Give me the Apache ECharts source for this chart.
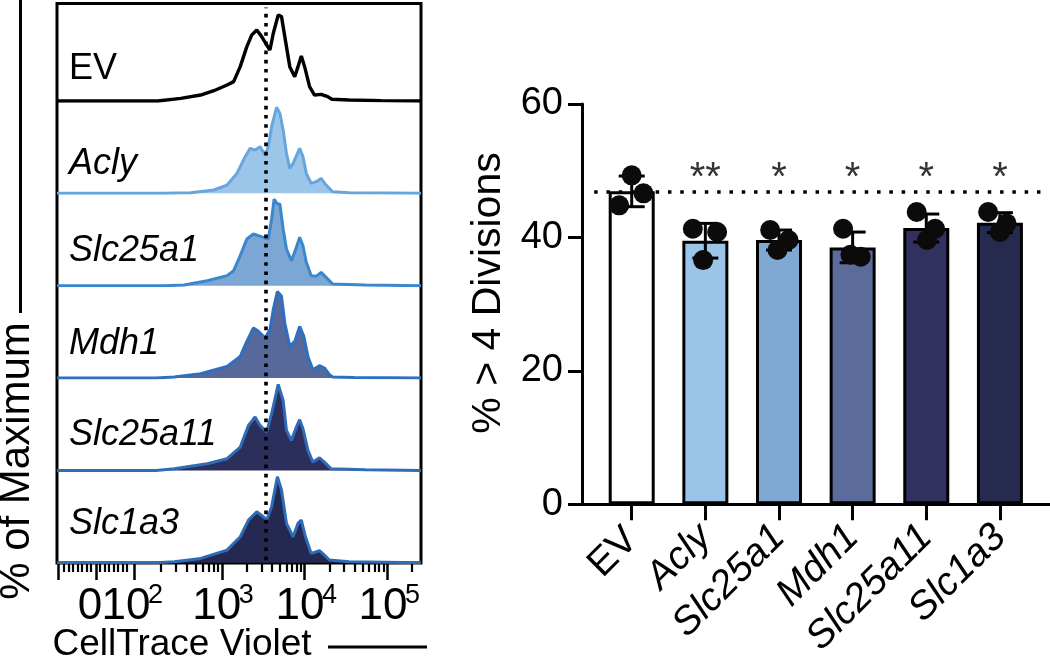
<!DOCTYPE html>
<html><head><meta charset="utf-8">
<script src="https://cdn.jsdelivr.net/npm/echarts@6/dist/echarts.min.js"></script>
<style>html,body{margin:0;padding:0;background:#fff}#c{width:1050px;height:660px}</style>
</head><body><div id="c"></div><script>
// ---------- Histogram data: [CellTrace Violet display position (decades), % of maximum] ----------
const histNames = ['EV', 'Acly', 'Slc25a1', 'Mdh1', 'Slc25a11', 'Slc1a3'];
const histItalic = [false, true, true, true, true, true];
const histEV = [[1.0,0],[2.22,0],[2.5,3.1],[2.74,6.9],[2.9,11.9],[3.06,18.5],[3.14,22.4],[3.22,39.7],[3.3,62.8],[3.36,76.3],[3.42,82],[3.48,74.4],[3.54,64.7],[3.58,59],[3.62,78],[3.68,99.4],[3.72,97.5],[3.76,74.4],[3.82,39.7],[3.88,28.1],[3.92,39.7],[3.96,52],[4.0,39.7],[4.06,16.6],[4.12,6.9],[4.2,7.7],[4.28,5],[4.33,2],[4.54,1.2],[4.93,0.4],[5.41,0]];
const histAcly = [[1.0,0],[2.3,0],[2.62,0.8],[2.9,3.9],[3.06,9.6],[3.18,23.1],[3.28,42.4],[3.34,52],[3.4,50],[3.46,54],[3.52,44.3],[3.56,54],[3.6,77],[3.66,99.4],[3.7,92.5],[3.74,73.2],[3.78,46.2],[3.82,28.9],[3.86,34.7],[3.94,52],[3.98,42.4],[4.02,23.1],[4.08,11.6],[4.14,13.5],[4.2,17.3],[4.26,9.6],[4.34,1.9],[4.54,0.8],[5.41,0]];
const histSlc25a1 = [[1.0,0],[2.3,0],[2.54,0.8],[2.82,5.8],[3.06,11.6],[3.14,17.3],[3.22,34.7],[3.3,54],[3.38,59.7],[3.5,55.9],[3.56,54],[3.6,77],[3.63,100],[3.67,94.4],[3.7,94.4],[3.74,65.5],[3.78,42.4],[3.84,28.9],[3.9,44.3],[3.94,55.9],[3.98,46.2],[4.02,27],[4.08,11.6],[4.14,10.8],[4.2,15.4],[4.26,9.6],[4.34,1.9],[4.74,0.8],[5.41,0]];
const histMdh1 = [[1.0,0],[2.2,0],[2.42,1.2],[2.74,5],[3.06,13.5],[3.22,25],[3.3,42.4],[3.38,57.8],[3.44,54],[3.52,46.2],[3.58,55.9],[3.62,79],[3.67,100],[3.72,94.4],[3.76,63.6],[3.82,36.6],[3.88,42.4],[3.94,59.7],[3.99,48.2],[4.04,25],[4.1,9.6],[4.18,14.3],[4.24,11.6],[4.3,3.9],[4.34,1.2],[4.6,0.5],[5.41,0]];
const histSlc25a11 = [[1.0,0],[2.2,0],[2.42,1.9],[2.82,7.7],[3.06,13.5],[3.22,27],[3.32,52],[3.4,61.7],[3.46,52],[3.54,44.3],[3.6,65.5],[3.68,99.4],[3.74,80.9],[3.78,46.2],[3.84,34.7],[3.9,50],[3.94,58.6],[3.98,48.2],[4.04,23.1],[4.1,9.6],[4.18,14.6],[4.24,9.6],[4.32,1.9],[4.74,0.8],[5.41,0]];
const histSlc1a3 = [[1.0,0],[2.2,0],[2.42,1.2],[2.74,5],[3.06,14.6],[3.22,30],[3.32,49.3],[3.42,59],[3.5,53.2],[3.54,49.3],[3.6,64.7],[3.67,99.4],[3.72,84],[3.78,45.5],[3.86,30],[3.92,45.5],[3.96,49.3],[4.01,30],[4.08,10.8],[4.18,13.9],[4.24,8.9],[4.3,3.1],[4.54,1.2],[5.41,0]];
const histData = [histEV, histAcly, histSlc25a1, histMdh1, histSlc25a11, histSlc1a3];
const divisionGate = 3.532; // dotted gate position

// CellTrace axis ticks (display positions on the biexponential axis)
const ctMin = 1.0, ctMax = 5.41;
const ctMajorTicks = [1.02, 1.47, 1.93, 3, 4, 5];
const ctMinorTicks = [1.08, 1.14, 1.19, 1.25, 1.3, 1.36, 1.41, 1.52, 1.58, 1.63, 1.69, 1.74, 1.8, 1.85,
  2.252, 2.44, 2.574, 2.678, 2.763, 2.834, 2.896, 2.951,
  3.301, 3.477, 3.602, 3.699, 3.778, 3.845, 3.903, 3.954,
  4.301, 4.477, 4.602, 4.699, 4.778, 4.845, 4.903, 4.954, 5.301];
const ctZeroLabelPos = 1.40;
const ctDecadeLabelPos = [1.836, 2.934, 3.944, 4.95];
const ctDecadeExp = ['2', '3', '4', '5'];

// ---------- Bar chart data ----------
const groups = ['EV', 'Acly', 'Slc25a1', 'Mdh1', 'Slc25a11', 'Slc1a3'];
const groupMeans = [46.9, 39.5, 39.6, 38.5, 41.4, 42.2];
const groupSD = [2.3, 2.6, 1.5, 2.3, 2.1, 1.5];
const groupPoints = [[49.3, 46.6, 44.8], [41.3, 40.8, 36.6], [41.1, 39.6, 38.1], [41.3, 37.4, 37.1], [43.8, 41.3, 39.6], [43.8, 42.1, 40.8]];
const pointJitter = [[0, 0.16, -0.17], [-0.17, 0.16, -0.03], [-0.12, 0.13, -0.02], [-0.13, -0.03, 0.11], [-0.13, 0.12, 0.01], [-0.16, 0.09, 0]];
const stars = ['', '**', '*', '*', '*', '*'];
const starLevel = 48.7;
const refLevel = 46.9;
const refFrom = -0.51, refTo = 5.66;

// ---------- styles ----------
const FONT = "'Liberation Sans', Arial, Helvetica, sans-serif";
const histFill = [null, '#9CC5EA', '#7CA7D4', '#57689A', '#2C2E5C', '#252850'];
const histLine = ['#000000', '#66A6DD', '#3A87CE', '#2E6FC0', '#2F6CB8', '#2F6CB8'];
const barColors = ['#FFFFFF', '#9AC4E8', '#7FA8D3', '#5B6B9B', '#31315E', '#262A4E'];

const grids = [], xAxes = [], yAxes = [], series = [];
const FL = 57, FW = 364, FT = 3.5, FH = 559.5;
const noLine = {show: false, onZero: false};
function addGrid(g, xa, ya) {
  const gi = grids.length;
  grids.push(g);
  xAxes.push(Object.assign({gridIndex: gi, type: 'value', position: 'bottom', splitLine: {show: false}}, xa));
  yAxes.push(Object.assign({gridIndex: gi, type: 'value', splitLine: {show: false}}, ya));
  return gi;
}
const frameGeom = {left: FL, top: FT, width: FW, height: FH};
const hidY = {min: 0, max: 100, show: false};
// frame with major ticks and the "0" label
addGrid(Object.assign({show: true, borderColor: '#000', borderWidth: 3, backgroundColor: 'transparent'}, frameGeom),
  {min: ctMin, max: ctMax, axisLine: noLine,
   axisTick: {show: true, customValues: ctMajorTicks, length: 17, lineStyle: {color: '#000', width: 2.5}},
   axisLabel: {show: true, customValues: [ctZeroLabelPos], formatter: () => '0', margin: 22, fontSize: 44, fontFamily: FONT, color: '#000'}},
  hidY);
// minor ticks
addGrid(Object.assign({}, frameGeom),
  {min: ctMin, max: ctMax, axisLine: noLine,
   axisTick: {show: true, customValues: ctMinorTicks, length: 9, lineStyle: {color: '#000', width: 2.2}},
   axisLabel: {show: false}}, hidY);
// "10" bases
addGrid(Object.assign({}, frameGeom),
  {min: ctMin, max: ctMax, axisLine: noLine, axisTick: {show: false},
   axisLabel: {show: true, customValues: ctDecadeLabelPos, formatter: () => '10', margin: 22, fontSize: 44, fontFamily: FONT, color: '#000'}}, hidY);
// exponents
addGrid(Object.assign({}, frameGeom),
  {min: ctMin, max: ctMax, axisLine: noLine, axisTick: {show: false},
   axisLabel: {show: true, customValues: ctDecadeLabelPos, formatter: v => ctDecadeExp[ctDecadeLabelPos.indexOf(v)], margin: 19, fontSize: 27, fontFamily: FONT, color: '#000', align: 'left', padding: [0, 0, 0, 22]}}, hidY);

// histogram panels
const baseline0 = 101, panelH = 92.35;
histData.forEach((d, i) => {
  const gi = addGrid({left: FL, width: FW, top: baseline0 + i * panelH - panelH, height: panelH},
    {min: ctMin, max: ctMax, show: false}, {min: 0, max: 106.7, show: false});
  const s = {type: 'line', name: histNames[i], xAxisIndex: gi, yAxisIndex: gi, data: d, showSymbol: false, symbol: 'none',
    lineStyle: {color: histLine[i], width: i === 0 ? 3.4 : 3}, z: 3, silent: true};
  if (histFill[i]) s.areaStyle = {color: histFill[i], opacity: 1};
  series.push(s);
});
// gate line on frame grid
series.push({type: 'line', xAxisIndex: 0, yAxisIndex: 0, data: [[divisionGate, 0.5], [divisionGate, 99.3]], symbol: 'none',
  lineStyle: {color: '#000', width: 3.6, type: [3.6, 5.6]}, z: 10, silent: true});

// bar chart
const barGeom = {left: 582, top: 104, width: 468, height: 403};
const bx = {min: -0.675, max: 5.68};
const bg = addGrid(Object.assign({}, barGeom),
  Object.assign({axisLine: {show: true, onZero: false, lineStyle: {color: '#000', width: 3}},
   axisTick: {show: true, customValues: [0, 1, 2, 3, 4, 5], length: 16, lineStyle: {color: '#000', width: 3}},
   axisLabel: {show: true, customValues: [1, 2, 3, 4, 5], rotate: 45, margin: 27, fontSize: 39, fontFamily: FONT, fontStyle: 'italic', color: '#000',
     formatter: v => groups[v]}}, bx),
  {min: 0, max: 60, interval: 20,
   axisLine: {show: true, onZero: false, lineStyle: {color: '#000', width: 3}},
   axisTick: {show: true, length: 14, lineStyle: {color: '#000', width: 3}},
   axisLabel: {show: true, margin: 19, fontSize: 38, fontFamily: FONT, color: '#000'}});
// upright "EV" label on an overlapping grid
addGrid(Object.assign({}, barGeom),
  Object.assign({axisLine: noLine, axisTick: {show: false},
   axisLabel: {show: true, customValues: [0], rotate: 45, margin: 27, fontSize: 39, fontFamily: FONT, color: '#000', formatter: v => groups[v]}}, bx),
  {min: 0, max: 60, show: false});

series.push({type: 'bar', xAxisIndex: bg, yAxisIndex: bg, barWidth: 46,
  data: groupMeans.map((m, i) => [i, m]),
  itemStyle: {color: p => barColors[p.dataIndex], borderColor: '#000', borderWidth: 3},
  markLine: {silent: true, symbol: 'none', label: {show: false},
    lineStyle: {color: '#000', width: 3.5, type: [3.5, 8.8]},
    data: [[{coord: [refFrom, refLevel]}, {coord: [refTo, refLevel]}]]},
  z: 2, silent: true});
series.push({type: 'custom', xAxisIndex: bg, yAxisIndex: bg, z: 4, silent: true,
  data: groupMeans.map((m, i) => [i, m - groupSD[i], m + groupSD[i]]),
  renderItem: (params, api) => {
    const x = api.value(0);
    const t = api.coord([x, api.value(2)]), b = api.coord([x, api.value(1)]);
    const hw = 13, st = {stroke: '#000', lineWidth: 3};
    return {type: 'group', children: [
      {type: 'line', shape: {x1: t[0], y1: t[1], x2: b[0], y2: b[1]}, style: st},
      {type: 'line', shape: {x1: t[0] - hw, y1: t[1], x2: t[0] + hw, y2: t[1]}, style: st},
      {type: 'line', shape: {x1: b[0] - hw, y1: b[1], x2: b[0] + hw, y2: b[1]}, style: st}
    ]};
  }});
const pts = [];
groupPoints.forEach((arr, i) => arr.forEach((v, j) => pts.push([i + pointJitter[i][j], v])));
series.push({type: 'scatter', xAxisIndex: bg, yAxisIndex: bg, data: pts, symbol: 'circle', symbolSize: 20,
  itemStyle: {color: '#0b0b0b', opacity: 1}, z: 5, silent: true});
series.push({type: 'scatter', xAxisIndex: bg, yAxisIndex: bg, data: stars.map((s, i) => [i, starLevel, s]), symbolSize: 0,
  label: {show: true, position: 'inside', formatter: p => p.data[2], fontSize: 40, fontFamily: FONT, color: '#000'}, z: 6, silent: true});

// ---------- text ----------
const panelLabelY = [69, 163.5, 251, 343.5, 435, 523.5];
const graphic = [
  {type: 'line', shape: {x1: 20.5, y1: 0, x2: 20.5, y2: 313}, style: {stroke: '#000', lineWidth: 3}},
  {type: 'text', x: 17, y: 461, rotation: Math.PI / 2, style: {text: '% of Maximum', fontSize: 42, fontFamily: FONT, fill: '#000', align: 'center', verticalAlign: 'middle'}},
  {type: 'text', x: 182, y: 645, style: {text: 'CellTrace Violet', fontSize: 37, fontFamily: FONT, fill: '#000', align: 'center', verticalAlign: 'middle'}},
  {type: 'line', shape: {x1: 328, y1: 647, x2: 427, y2: 647}, style: {stroke: '#000', lineWidth: 3}},
  {type: 'text', x: 489, y: 293, rotation: Math.PI / 2, style: {text: '% > 4 Divisions', fontSize: 41, fontFamily: FONT, fill: '#000', align: 'center', verticalAlign: 'middle'}}
];
histNames.forEach((n, i) => graphic.push({type: 'text', x: 69, y: panelLabelY[i],
  style: {text: n, fontSize: 36, fontFamily: FONT, fontStyle: histItalic[i] ? 'italic' : 'normal', fill: '#000', align: 'left', verticalAlign: 'middle'}}));

const chart = echarts.init(document.getElementById('c'), null, {renderer: 'canvas'});
chart.setOption({animation: false, backgroundColor: '#fff', grid: grids, xAxis: xAxes, yAxis: yAxes, series: series, graphic: graphic});
</script></body></html>
